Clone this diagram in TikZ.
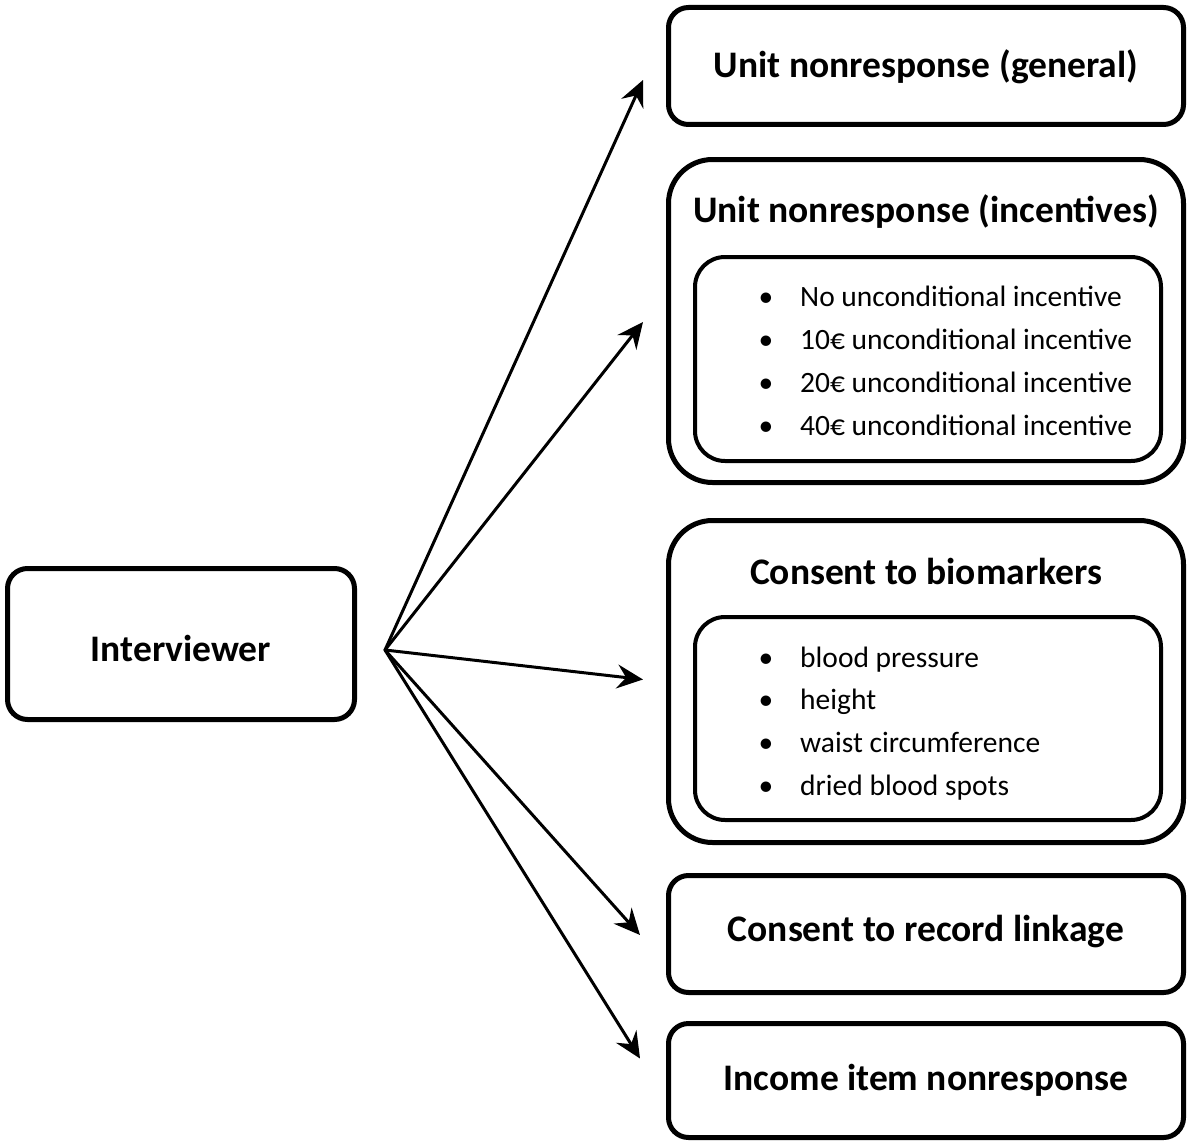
\documentclass[tikz,border=0pt]{standalone}
\usepackage{fontspec}
\setmainfont{Carlito}
\usetikzlibrary{arrows.meta,calc}
\begin{document}
\begin{tikzpicture}[x=1pt,y=-1pt,
  outerbox/.style={draw=black,line width=5pt,rounded corners=20pt,inner sep=0pt,fill=white},
  bigbox/.style={draw=black,line width=5pt,rounded corners=44pt,inner sep=0pt},
  innerbox/.style={draw=black,line width=4pt,rounded corners=30pt,inner sep=0pt},
  title/.style={font=\fontsize{37.5}{42}\selectfont\bfseries,inner sep=0pt},
  item/.style={font=\fontsize{29.5}{33}\selectfont,anchor=base west,inner sep=0pt},
  bul/.style={font=\fontsize{29.5}{33}\selectfont,anchor=base,inner sep=0pt},
  arr/.style={line width=3pt,-{Stealth[length=26pt,width=24pt,inset=9pt]}}
]
\useasboundingbox (0,0) rectangle (1191,1145);

% Interviewer
\node[outerbox,minimum width=347pt,minimum height=151pt] (iv) at (181,644) {};
\node[title] (ivt) at (181,648) {Interviewer};

% Box 1
\node[outerbox,minimum width=515pt,minimum height=117pt] (b1) at (926,66) {};
\node[title] (b1t) at (926,67) {Unit nonresponse (general)};

% Box 2
\node[bigbox,minimum width=515pt,minimum height=323pt] (b2) at (926,321) {};
\node[title] (b2t) at (926,212) {Unit nonresponse (incentives)};
\node[innerbox,minimum width=466pt,minimum height=204pt] (b2i) at (928,359) {};
\foreach \y/\t [count=\i] in {306/No unconditional incentive,349/10€ unconditional incentive,392/20€ unconditional incentive,435/40€ unconditional incentive}{
  \node[bul] (b2b\i) at (766,\y) {•};
  \node[item] (b2x\i) at (800,\y) {\t};
}

% Box 3
\node[bigbox,minimum width=515pt,minimum height=322pt] (b3) at (926,681.5) {};
\node[title] (b3t) at (926,571) {Consent to biomarkers};
\node[innerbox,minimum width=466pt,minimum height=203pt] (b3i) at (928,718.5) {};
\foreach \y/\t [count=\i] in {667/blood pressure,709/height,752/waist circumference,795/dried blood spots}{
  \node[bul] (b3b\i) at (766,\y) {•};
  \node[item] (b3x\i) at (800,\y) {\t};
}

% Box 4
\node[outerbox,minimum width=515pt,minimum height=117pt] (b4) at (926,934) {};
\node[title] (b4t) at (926,932) {Consent to record linkage};

% Box 5
\node[outerbox,minimum width=515pt,minimum height=114pt] (b5) at (926,1080.5) {};
\node[title] (b5t) at (926,1080) {Income item nonresponse};

% arrows
\coordinate (src) at (385,650);
\coordinate (t1) at ($(b1.west)+(-23,14)$);
\coordinate (t2) at ($(b2.west)+(-23,1)$);
\coordinate (t3) at ($(b3.west)+(-23,-2)$);
\coordinate (t4) at ($(b4.west)+(-26,1)$);
\coordinate (t5) at ($(b5.west)+(-26,-22)$);
\foreach \t in {t1,t2,t3,t4,t5}{
  \draw[arr,line cap=round] (src) -- (\t);
}
\end{tikzpicture}
\end{document}
